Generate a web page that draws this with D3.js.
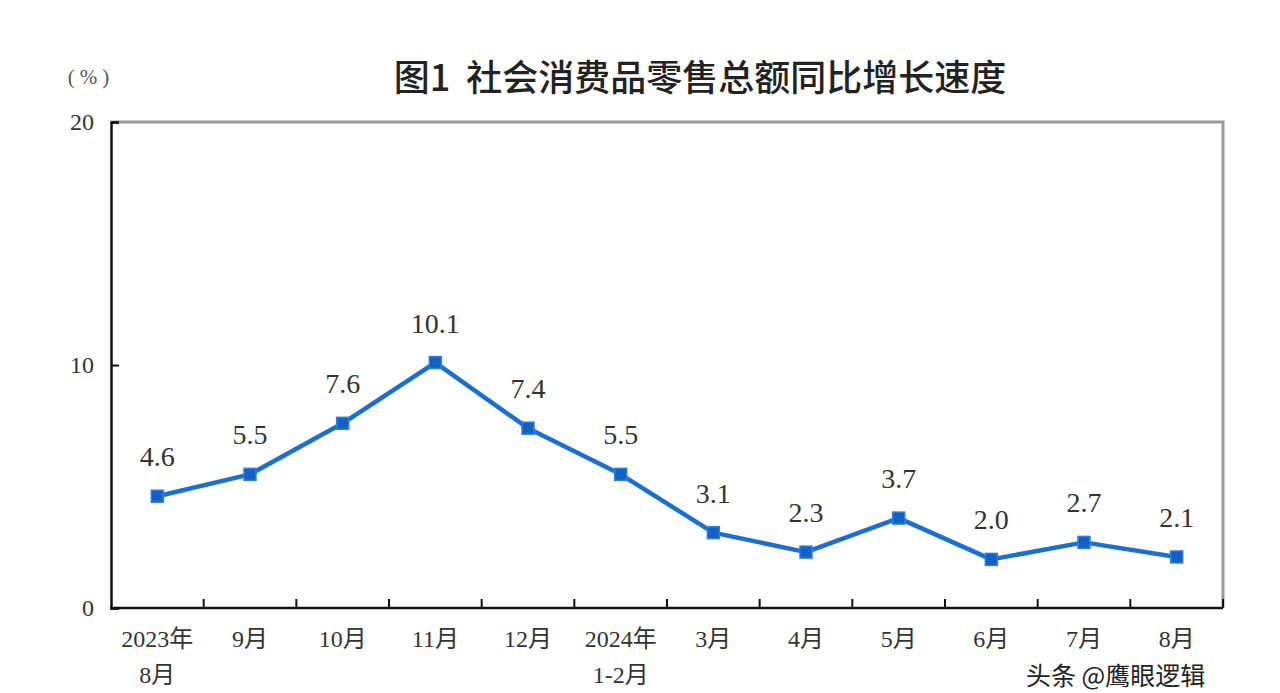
<!DOCTYPE html>
<html><head><meta charset="utf-8">
<script src="https://cdn.jsdelivr.net/npm/d3@7"></script>
<style>
html,body{margin:0;padding:0;background:#fff;}
svg{display:block;}
</style></head>
<body>
<svg id="chart" width="1280" height="693"></svg>
<script>
const categories = ["2023年\n8月","9月","10月","11月","12月","2024年\n1-2月","3月","4月","5月","6月","7月","8月"];
const values = [4.6,5.5,7.6,10.1,7.4,5.5,3.1,2.3,3.7,2.0,2.7,2.1];
const yTicks = [0,10,20];
const title = "图1  社会消费品零售总额同比增长速度";
const unitLabel = "(%)";
const watermark = "头条 @鹰眼逻辑";

const svg = d3.select("#chart");
const m = {left:111, right:1223, top:122, bottom:608};
const serif = "'Liberation Serif','Times New Roman','Noto Sans CJK SC',serif";
const cjk = "'Noto Sans CJK SC','Noto Sans CJK',sans-serif";

const x = d3.scaleBand().domain(d3.range(categories.length)).range([m.left,m.right]);
const y = d3.scaleLinear().domain([0,20]).range([m.bottom,m.top]);

// title
svg.append("text").attr("x",700).attr("y",91).attr("text-anchor","middle")
  .attr("font-family",cjk).attr("font-weight",500).attr("font-size",36).attr("fill","#222")
  .attr("xml:space","preserve").style("white-space","pre")
  .text(title);
svg.append("text").attr("x",91).attr("y",84).attr("text-anchor","middle")
  .attr("font-family",serif).attr("font-size",21).attr("letter-spacing",5).attr("fill","#555").text(unitLabel);

// frame top/right gray
svg.append("path")
  .attr("d",`M${m.left},${m.top}H${m.right}V${m.bottom}`)
  .attr("fill","none").attr("stroke","#9a9a9a").attr("stroke-width",3);

// y axis
const yAxis = d3.axisLeft(y).tickValues(yTicks).tickSize(-8).tickPadding(17).tickFormat(d3.format("d"));
const gy = svg.append("g").attr("transform",`translate(${m.left},0)`).call(yAxis);
gy.select(".domain").attr("stroke","#111").attr("stroke-width",2.5);
gy.selectAll(".tick line").attr("stroke","#111").attr("stroke-width",2);
gy.selectAll(".tick text").attr("font-family",serif).attr("font-size",24).attr("fill","#333");

// x axis
const boundaries = d3.range(1,categories.length).map(i=>x(i));
const gx = svg.append("g");
gx.append("line").attr("x1",m.left-1).attr("x2",m.right).attr("y1",m.bottom).attr("y2",m.bottom)
  .attr("stroke","#111").attr("stroke-width",2.5);
gx.selectAll("line.tk").data(boundaries).join("line").attr("class","tk")
  .attr("x1",d=>d).attr("x2",d=>d).attr("y1",m.bottom).attr("y2",m.bottom-9)
  .attr("stroke","#111").attr("stroke-width",2);
gx.append("line").attr("x1",m.right).attr("x2",m.right).attr("y1",m.bottom).attr("y2",m.bottom-9)
  .attr("stroke","#111").attr("stroke-width",2);
const xl = gx.selectAll("text.xl").data(categories).join("text").attr("class","xl")
  .attr("text-anchor","middle").attr("font-family",serif).attr("font-size",24).attr("fill","#333");
xl.each(function(d,i){
  const t=d3.select(this); const cx=x(i)+x.bandwidth()/2;
  d.split("\n").forEach((s,k)=>{
    t.append("tspan").attr("x",cx).attr("y",647+k*36).text(s);
  });
});

// line
const color = "#1a6fd0";
const line = d3.line().x((d,i)=>x(i)+x.bandwidth()/2).y(d=>y(d));
svg.append("path").datum(values).attr("d",line).attr("fill","none")
  .attr("stroke",color).attr("stroke-width",4.5).attr("stroke-linejoin","round");
svg.selectAll("rect.pt").data(values).join("rect").attr("class","pt")
  .attr("x",(d,i)=>x(i)+x.bandwidth()/2-6).attr("y",d=>y(d)-6)
  .attr("width",12).attr("height",12).attr("fill","#1560c4").attr("stroke","#2f7fe0").attr("stroke-width",1.5);
svg.selectAll("text.lbl").data(values).join("text").attr("class","lbl")
  .attr("x",(d,i)=>x(i)+x.bandwidth()/2).attr("y",d=>y(d)-30)
  .attr("text-anchor","middle").attr("font-family",serif).attr("font-size",28).attr("fill","#333")
  .text(d=>d.toFixed(1));

// watermark
svg.append("text").attr("x",1026).attr("y",685).attr("font-family",cjk).attr("font-size",25)
  .attr("fill","#222").attr("stroke","#fff").attr("stroke-width",1).attr("paint-order","stroke")
  .text(watermark);
</script>
</body></html>
